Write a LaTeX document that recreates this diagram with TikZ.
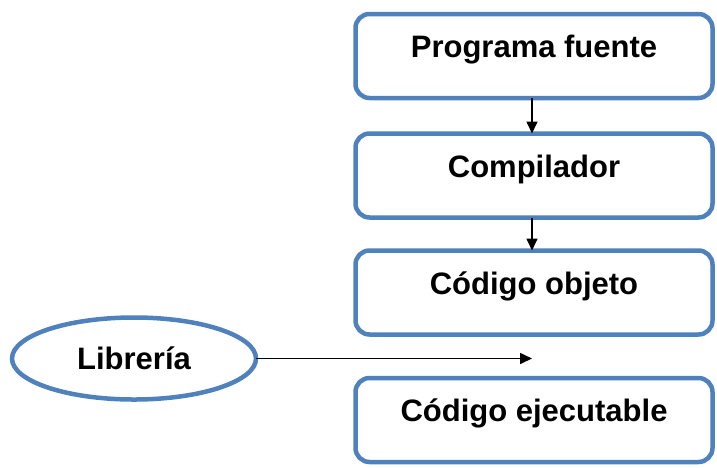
\documentclass[tikz,border=0pt]{standalone}
\usepackage{fontspec}
\setmainfont{Liberation Sans}
\usetikzlibrary{arrows.meta,shapes.geometric}
\definecolor{boxblue}{HTML}{4F81BD}
\begin{document}
\begin{tikzpicture}[x=1pt,y=1pt,
  stepbox/.style={draw=boxblue, line width=4.5pt, rounded corners=14pt, fill=white,
    minimum width=357pt, minimum height=84pt, inner sep=0pt, outer sep=0pt,
    text height=0.75em, text depth=0.45em,
    font=\bfseries\fontsize{31}{37}\selectfont},
  libnode/.style={draw=boxblue, line width=4.5pt, ellipse, fill=white,
    minimum width=244pt, minimum height=82pt, inner sep=0pt, outer sep=0pt,
    font=\bfseries\fontsize{31}{37}\selectfont},
  conn/.style={line width=1.6pt, -{Triangle[length=12pt,width=11pt]}}]
\useasboundingbox (0,0) rectangle (717,-467);
\node[stepbox] (pf) at (534,-56) {Programa fuente};
\node[stepbox] (comp) at (534,-175.5) {Compilador};
\node[stepbox] (obj) at (534,-292.5) {Código objeto};
\node[stepbox] (exe) at (534,-420) {Código ejecutable};
\node[libnode] (lib) at (134,-358.5) {Librería};
\coordinate (tip) at (532,-358.5);
\draw[conn] (pf.south -| 532,0) -- (comp.north -| 532,0);
\draw[conn] (comp.south -| 532,0) -- (obj.north -| 532,0);
\draw[conn] (lib.east) -- (tip);
\end{tikzpicture}
\end{document}
